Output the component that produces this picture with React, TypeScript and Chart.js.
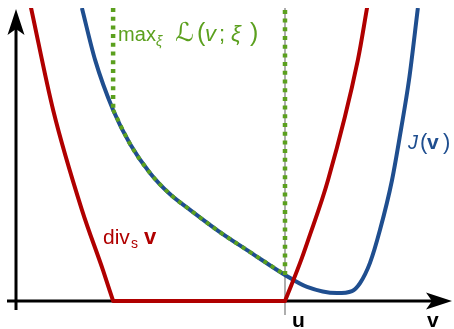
import React, { useEffect, useRef } from "react";
import { Chart, registerables } from "chart.js";

Chart.register(...registerables);

const W = 454;
const H = 329;

// Visible window in curve units (u sits at 100, the top of the plot at 100)
const X_MIN = -5.95;
const X_MAX = 162.83;
const Y_MIN = -9.56;
const Y_MAX = 100;

const U = 100; // the point u on the v-axis
const V_LEFT = 36.1; // left edge of the zero set of div_s

// div_s v : left branch, flat part, right branch
const divLeftX = [5.6, 13.8, 24.5, 32.3, 36.1];
const divLeftY = [100, 65.2, 31.1, 10.6, 0];
const divFlatX = [36.1, 100];
const divFlatY = [0, 0];
const divRightX = [100, 105.6, 108.6, 116.0, 127.1, 130.5];
const divRightY = [0, 13.0, 20.8, 41.3, 82.3, 100];

// J(v)
const jX = [24.5, 29.4, 36.1, 42.4, 49.8, 57.2, 64.7, 75.8, 87.0, 100, 108.2, 119.3, 124.9, 127.9, 131.6, 135.3, 139.8, 143.1, 146.1, 149.4];
const jY = [100, 82.3, 65.2, 53.6, 43.7, 36.5, 31.1, 23.5, 16.7, 8.9, 4.8, 2.7, 3.4, 6.1, 13.0, 24.2, 41.3, 58.4, 75.4, 100];

const U_TICK_BOTTOM = -4.8;

const RED = "#b00000";
const BLUE = "#1f4e8f";
const GREEN = "#5ba01e";
const GRAY = "#9a9a9a";

const SANS = '"Liberation Sans", "DejaVu Sans", sans-serif';

const pts = (xs: number[], ys: number[]) => xs.map((x, i) => ({ x, y: ys[i] }));

const jPts = pts(jX, jY);
const jAt = (x: number) => jPts.find((p) => p.x === x)!.y;
// max over xi of the Lagrangian: equals J between V_LEFT and U, infinite elsewhere
const maxL = jPts.filter((p) => p.x >= V_LEFT && p.x <= U);

type Run = { t: string; font: string; dx: number; dy?: number };

function drawRuns(ctx: CanvasRenderingContext2D, x: number, y: number, runs: Run[], color: string) {
  ctx.save();
  ctx.fillStyle = color;
  ctx.textAlign = "left";
  ctx.textBaseline = "alphabetic";
  for (const r of runs) {
    ctx.font = r.font;
    ctx.fillText(r.t, x + r.dx, y + (r.dy || 0));
  }
  ctx.restore();
}

function arrowHead(ctx: CanvasRenderingContext2D, tx: number, ty: number, angle: number) {
  const L = 26;
  const hw = 8.5;
  const notch = 6;
  ctx.save();
  ctx.translate(tx, ty);
  ctx.rotate(angle);
  ctx.beginPath();
  ctx.moveTo(0, 0);
  ctx.lineTo(-L, -hw);
  ctx.lineTo(-L + notch, 0);
  ctx.lineTo(-L, hw);
  ctx.closePath();
  ctx.fillStyle = "#000";
  ctx.fill();
  ctx.restore();
}

const axesPlugin = {
  id: "arrowAxes",
  beforeDatasetsDraw(chart: Chart) {
    const ctx = chart.ctx;
    const xs = chart.scales.x;
    const ys = chart.scales.y;
    const ox = xs.getPixelForValue(0);
    const oy = ys.getPixelForValue(0);
    const right = W - 2;
    const top = 9;
    ctx.save();
    ctx.strokeStyle = "#000";
    ctx.lineWidth = 3;
    ctx.lineCap = "butt";
    ctx.beginPath();
    ctx.moveTo(ox - 9, oy);
    ctx.lineTo(right - 20, oy);
    ctx.moveTo(ox, oy + 9);
    ctx.lineTo(ox, top + 20);
    ctx.stroke();
    ctx.restore();
    arrowHead(ctx, right, oy, 0);
    arrowHead(ctx, ox, top, -Math.PI / 2);
  },
};

const labelsPlugin = {
  id: "mathLabels",
  afterDatasetsDraw(chart: Chart) {
    const ctx = chart.ctx;
    const xs = chart.scales.x;
    const px = (v: number) => xs.getPixelForValue(v);

    // max_ξ ℒ(v; ξ)
    drawRuns(ctx, px(V_LEFT) + 5, 41, [
      { t: "max", font: `20px ${SANS}`, dx: 0 },
      { t: "ξ", font: `italic 14px ${SANS}`, dx: 38, dy: 5 },
      { t: "ℒ", font: `26px "DejaVu Sans", sans-serif`, dx: 57 },
      { t: "(", font: `25px ${SANS}`, dx: 79 },
      { t: "v", font: `italic 22px ${SANS}`, dx: 87 },
      { t: ";", font: `22px ${SANS}`, dx: 101 },
      { t: "ξ", font: `italic 22px ${SANS}`, dx: 113 },
      { t: ")", font: `25px ${SANS}`, dx: 132 },
    ], GREEN);

    // J(v)
    drawRuns(ctx, 408, 149, [
      { t: "J", font: `italic 20px ${SANS}`, dx: 0 },
      { t: "(", font: `22px ${SANS}`, dx: 12 },
      { t: "v", font: `bold 21px ${SANS}`, dx: 19 },
      { t: ")", font: `22px ${SANS}`, dx: 35 },
    ], BLUE);

    // div_s v
    drawRuns(ctx, 103, 244, [
      { t: "div", font: `21px ${SANS}`, dx: 0 },
      { t: "s", font: `14px ${SANS}`, dx: 28, dy: 4 },
      { t: "v", font: `bold 22px ${SANS}`, dx: 41 },
    ], RED);

    // axis labels
    drawRuns(ctx, px(U) + 7, 327, [{ t: "u", font: `bold 21px ${SANS}`, dx: 0 }], "#000");
    drawRuns(ctx, W - 27, 327, [{ t: "v", font: `bold 21px ${SANS}`, dx: 0 }], "#000");
  },
};

export default function App() {
  const canvasRef = useRef<HTMLCanvasElement | null>(null);

  useEffect(() => {
    const canvas = canvasRef.current;
    if (!canvas) return;

    const curve = {
      pointRadius: 0,
      fill: false,
      borderWidth: 4,
      clip: 0,
      borderCapStyle: "butt" as const,
      borderJoinStyle: "miter" as const,
    };

    const chart = new Chart(canvas, {
      type: "line",
      data: {
        datasets: [
          // green max-Lagrangian: vertical wall, curve, vertical wall at u
          {
            ...curve,
            order: 1,
            data: [{ x: V_LEFT, y: Y_MAX }, { x: V_LEFT, y: jAt(V_LEFT) }],
            borderColor: GREEN,
            borderWidth: 4.5,
            borderDash: [4, 4.7],
            tension: 0,
          },
          {
            ...curve,
            order: 1,
            data: maxL,
            borderColor: GREEN,
            borderWidth: 4,
            borderDash: [4, 4.7],
            cubicInterpolationMode: "monotone" as const,
          },
          {
            ...curve,
            order: 1,
            data: [{ x: U, y: jAt(U) }, { x: U, y: Y_MAX }],
            borderColor: GREEN,
            borderWidth: 4.5,
            borderDash: [4, 4.7],
            tension: 0,
          },
          // div_s v
          {
            ...curve,
            order: 2,
            data: pts(divLeftX, divLeftY),
            borderColor: RED,
            borderCapStyle: "round" as const,
            cubicInterpolationMode: "monotone" as const,
          },
          {
            ...curve,
            order: 2,
            data: pts(divFlatX, divFlatY),
            borderColor: RED,
            tension: 0,
          },
          {
            ...curve,
            order: 2,
            data: pts(divRightX, divRightY),
            borderColor: RED,
            borderCapStyle: "round" as const,
            cubicInterpolationMode: "monotone" as const,
          },
          // J(v)
          {
            ...curve,
            order: 3,
            data: jPts,
            borderColor: BLUE,
            cubicInterpolationMode: "monotone" as const,
          },
          // thin guide at u, reaching below the axis as a tick
          {
            ...curve,
            order: 4,
            data: [{ x: U, y: Y_MAX }, { x: U, y: U_TICK_BOTTOM }],
            borderColor: GRAY,
            borderWidth: 1.6,
            tension: 0,
          },
        ],
      },
      options: {
        responsive: false,
        animation: false,
        events: [],
        layout: { padding: { top: 8, left: 0, right: 0, bottom: 0 } },
        plugins: {
          legend: { display: false },
          tooltip: { enabled: false },
        },
        scales: {
          x: { type: "linear", min: X_MIN, max: X_MAX, display: false },
          y: { type: "linear", min: Y_MIN, max: Y_MAX, display: false },
        },
      },
      plugins: [axesPlugin, labelsPlugin],
    });

    return () => chart.destroy();
  }, []);

  return (
    <div style={{ position: "fixed", left: 0, top: 0, width: W, height: H, background: "#fff" }}>
      <canvas ref={canvasRef} width={W} height={H} style={{ display: "block", width: W, height: H }} />
    </div>
  );
}
